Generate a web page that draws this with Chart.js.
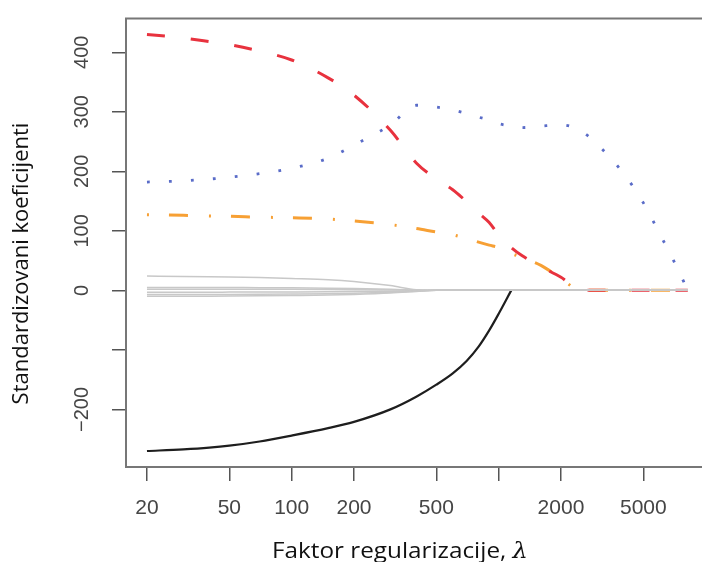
<!DOCTYPE html>
<html>
<head>
<meta charset="utf-8">
<script src="https://cdn.jsdelivr.net/npm/chart.js@4.4.1/dist/chart.umd.min.js"></script>
<style>
  html, body { margin: 0; padding: 0; background: #fff; overflow: hidden; }
  canvas { display: block; }
</style>
</head>
<body>
<canvas id="grafik" width="712" height="562"></canvas>
<script>
// vrijednosti lambda (log osa)
const lambde = [20, 30, 40, 50, 70, 100, 150, 200, 300, 400, 500, 600, 700, 800, 900, 1000, 1150, 1300, 1600, 2000, 2500, 3000, 4000, 5000, 6000, 7000, 8200];

const crvena = [430, 424, 418, 413, 402, 387, 357, 328, 269, 214, 187, 169, 149, 130, 114, 93, 72, 58, 40, 22, 0, 0, 0, 0, 0, 0, 0];
const narandzasta = [127, 126, 125, 124.5, 123, 122, 120, 116.5, 110.5, 104, 98, 93.5, 87, 81, 76, 72, 62, 55, 42, 20, 0, 0, 0, 0, 0, 0, 0];
const plava = [182, 184, 187, 190, 196, 205, 222, 244, 278, 311, 308, 303, 297, 291, 286, 280, 276, 273.5, 276, 278, 268, 245, 197, 147, 95, 50, 0];
const crna = [-269.8, -267.1, -264.2, -260.9, -253.8, -243.9, -231.5, -220.9, -199.9, -178.6, -158.4, -139.4, -118.6, -94.5, -67.2, -39.3, 0, null, null, null, null, null, null, null, null, null, null];

const siva1 = [24, 23.5, 23, 22.5, 21.5, 20, 18, 15, 8, 1, 0, 0, 0, 0, 0, 0, 0, 0, 0, 0, 0, 0, 0, 0, 0, 0, 0];
const siva2 = [5, 5, 5, 4.8, 4.6, 4.2, 3.6, 3, 1.8, 0.6, 0, 0, 0, 0, 0, 0, 0, 0, 0, 0, 0, 0, 0, 0, 0, 0, 0];
const siva3 = [2, 2, 2, 2, 1.9, 1.8, 1.5, 1.2, 0.7, 0.2, 0, 0, 0, 0, 0, 0, 0, 0, 0, 0, 0, 0, 0, 0, 0, 0, 0];
const siva4 = [-3, -3, -3, -2.9, -2.8, -2.6, -2.3, -2, -1.3, -0.5, 0, 0, 0, 0, 0, 0, 0, 0, 0, 0, 0, 0, 0, 0, 0, 0, 0];
const siva5 = [-7, -7, -6.9, -6.8, -6.5, -6.1, -5.5, -4.8, -3.2, -1.5, 0, 0, 0, 0, 0, 0, 0, 0, 0, 0, 0, 0, 0, 0, 0, 0, 0];
const siva6 = [-10, -10, -9.8, -9.6, -9.2, -8.6, -7.8, -6.8, -4.6, -2, 0, 0, 0, 0, 0, 0, 0, 0, 0, 0, 0, 0, 0, 0, 0, 0, 0];

const xTikovi = [20, 50, 100, 200, 500, 1000, 2000, 5000];
const yTikovi = [-200, -100, 0, 100, 200, 300, 400];

const naslovY = 'Standardizovani koeficijenti';
const naslovX = 'Faktor regularizacije, ';

function tacke(niz) {
  return lambde.map((l, i) => ({ x: l, y: niz[i] }));
}

function linija(niz, boja, sirina, crtice) {
  return {
    data: tacke(niz),
    borderColor: boja,
    borderWidth: sirina,
    borderDash: crtice || [],
    borderCapStyle: 'butt',
    pointRadius: 0,
    cubicInterpolationMode: 'monotone',
    fill: false
  };
}

// okvir oko grafika
const okvir = {
  id: 'okvir',
  afterDraw(chart) {
    const a = chart.chartArea;
    const ctx = chart.ctx;
    ctx.save();
    ctx.strokeStyle = '#777';
    ctx.lineWidth = 2;
    ctx.strokeRect(a.left, a.top, a.right - a.left, a.bottom - a.top);
    ctx.restore();
  }
};

// naslovi osa
const naslovi = {
  id: 'naslovi',
  afterDraw(chart) {
    const a = chart.chartArea;
    const ctx = chart.ctx;
    ctx.save();
    ctx.fillStyle = '#111';
    ctx.textBaseline = 'alphabetic';
    ctx.textAlign = 'left';
    ctx.font = '22px "Open Sans"';
    const w = ctx.measureText(naslovX).width;
    ctx.font = 'italic 22px "DejaVu Serif"';
    const wl = ctx.measureText('λ').width;
    // sirina naslova u originalu oko 256 px
    const k = 256 / (w + wl);
    ctx.translate(a.left + 146, 558);
    ctx.scale(k, 1);
    ctx.font = '22px "Open Sans"';
    ctx.fillText(naslovX, 0, 0);
    ctx.font = 'italic 22px "DejaVu Serif"';
    ctx.fillText('λ', w, 0);
    ctx.restore();

    ctx.save();
    ctx.fillStyle = '#111';
    ctx.font = '22px "Open Sans"';
    ctx.translate(22, a.top + 245);
    ctx.rotate(-Math.PI / 2);
    ctx.textAlign = 'center';
    ctx.textBaseline = 'middle';
    ctx.fillText(naslovY, 0, 0);
    ctx.restore();
  }
};

new Chart(document.getElementById('grafik'), {
  type: 'line',
  data: {
    datasets: [
      linija(siva1, '#c8c8c8', 1.5),
      linija(siva2, '#c8c8c8', 1.5),
      linija(siva3, '#c8c8c8', 1.5),
      linija(siva4, '#c8c8c8', 1.5),
      linija(siva5, '#c8c8c8', 1.5),
      linija(siva6, '#c8c8c8', 1.5),
      linija(crna, '#1e1e1e', 2.2),
      linija(crvena, '#e8323e', 3, [18, 26]),
      linija(narandzasta, '#f7a034', 3, [2, 20, 19, 21]),
      linija(plava, '#5a6cc8', 2.8, [2.8, 19.2])
    ]
  },
  options: {
    responsive: false,
    animation: false,
    layout: { padding: { top: 15, right: 2, left: 0, bottom: 0 } },
    plugins: { legend: { display: false }, tooltip: { enabled: false } },
    scales: {
      x: {
        type: 'logarithmic',
        min: 15.84,
        max: 10493,
        afterBuildTicks: s => { s.ticks = xTikovi.map(v => ({ value: v })); },
        afterFit: s => { s.height = 95; },
        grid: { drawOnChartArea: false, tickLength: 14, color: '#555', lineWidth: 1.5 },
        border: { color: '#777', width: 2 },
        ticks: {
          autoSkip: false,
          maxRotation: 0,
          padding: 15,
          color: '#454545',
          font: { family: 'Liberation Sans', size: 21 },
          callback: v => (v === 1000 ? '' : String(v))
        }
      },
      y: {
        min: -296.7,
        max: 456.7,
        afterBuildTicks: s => { s.ticks = yTikovi.map(v => ({ value: v })); },
        afterFit: s => { s.width = 126; },
        grid: { drawOnChartArea: false, tickLength: 14, color: '#555', lineWidth: 1.5 },
        border: { color: '#777', width: 2 },
        ticks: {
          minRotation: 90,
          maxRotation: 90,
          crossAlign: 'center',
          padding: 6.5,
          color: '#454545',
          font: { family: 'Liberation Sans', size: 20 },
          callback: v => (v === -100 ? '' : (v < 0 ? '\u2212' + Math.abs(v) : String(v)))
        }
      }
    }
  },
  plugins: [okvir, naslovi]
});
</script>
</body>
</html>
